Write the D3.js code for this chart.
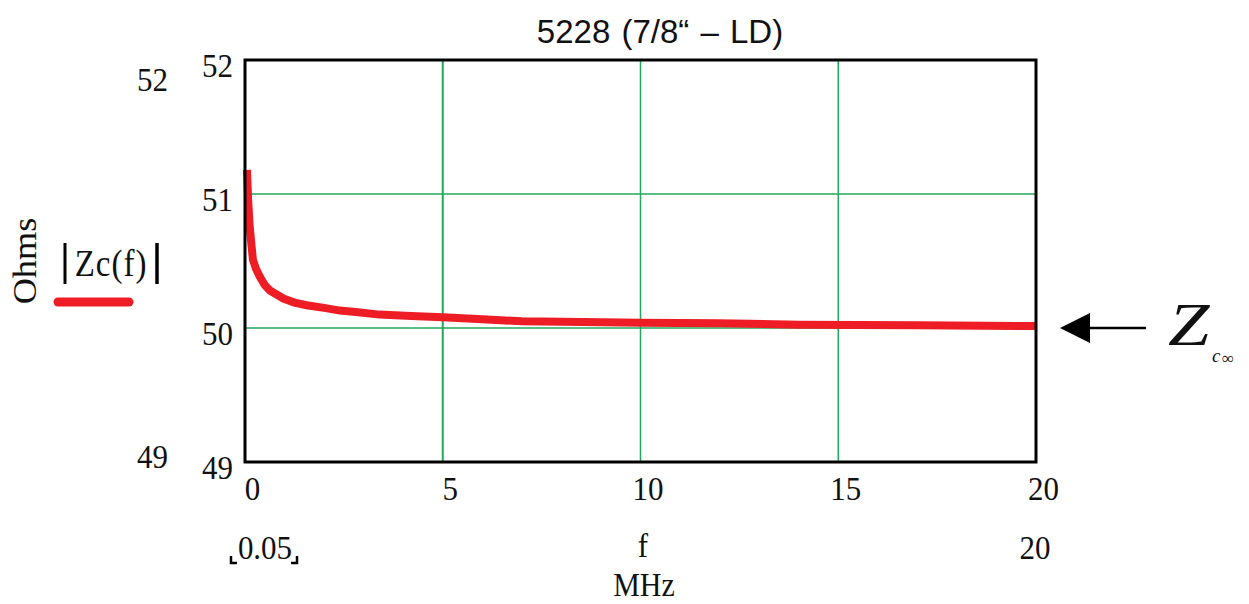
<!DOCTYPE html>
<html>
<head>
<meta charset="utf-8">
<script src="https://cdn.jsdelivr.net/npm/d3@7"></script>
<style>
  body { margin: 0; background: #fff; }
  svg { display: block; }
  .serif { font-family: "Liberation Serif", "Times New Roman", serif; fill: #111; }
</style>
</head>
<body>
<script>
// frequency in MHz, |Zc(f)| in ohms
var freqs = [0.05, 0.08, 0.12, 0.2, 0.28, 0.38, 0.5, 0.63, 0.8, 0.97, 1.25, 1.56, 2.0, 2.4, 2.8, 3.4, 4.2, 5.0, 6.0, 7.0, 8.5, 10, 12, 14, 17, 20];
var zc    = [51.18, 50.95, 50.75, 50.51, 50.44, 50.38, 50.32, 50.28, 50.25, 50.22, 50.19, 50.17, 50.15, 50.13, 50.12, 50.1, 50.09, 50.08, 50.065, 50.05, 50.045, 50.04, 50.035, 50.025, 50.02, 50.015];
var xTicks = [0, 5, 10, 15, 20];
var yTicks = [49, 50, 51, 52];
var xDomain = [0, 20];
var yDomain = [49, 52];
var title = "5228 (7/8\u201C \u2013 LD)";

var width = 1249, height = 604;

var svg = d3.select("body").append("svg")
    .attr("width", width)
    .attr("height", height);

var x = d3.scaleLinear().domain(xDomain).range([245, 1036]);
var y = d3.scaleLinear().domain(yDomain).range([462, 60]);

var green = "#22a85a";
var sy = 1.12; // the picture's lettering is a little taller than plain Times

// serif label at (px, py) baseline, stretched a bit vertically
function label(txt, px, py, size, anchor) {
  return svg.append("text").attr("class", "serif")
    .attr("transform", "translate(" + px + "," + py + ") scale(1," + sy + ")")
    .attr("text-anchor", anchor || "middle")
    .style("font-size", size + "px")
    .text(txt);
}

// grid
svg.append("g").selectAll("line")
    .data(xTicks.filter(function(d) { return d > 0 && d < 20; }))
    .enter().append("line")
    .attr("x1", function(d) { return x(d); })
    .attr("x2", function(d) { return x(d); })
    .attr("y1", y(52)).attr("y2", y(49))
    .attr("stroke", green)
    .attr("stroke-width", function(d) { return d == 5 ? 2 : 1.5; });

svg.append("g").selectAll("line")
    .data(yTicks.filter(function(d) { return d > 49 && d < 52; }))
    .enter().append("line")
    .attr("x1", x(0)).attr("x2", x(20))
    .attr("y1", function(d) { return y(d); })
    .attr("y2", function(d) { return y(d); })
    .attr("stroke", green)
    .attr("stroke-width", 1.5);

// curve
var data = freqs.map(function(f, i) { return [f, zc[i]]; });
svg.append("path")
    .datum(data)
    .attr("fill", "none")
    .attr("stroke", "#ee1c25")
    .attr("stroke-width", 8)
    .attr("d", d3.line()
        .x(function(d) { return x(d[0]); })
        .y(function(d) { return y(d[1]); }));

// frame
svg.append("rect")
    .attr("x", x(0)).attr("y", y(52))
    .attr("width", x(20) - x(0)).attr("height", y(49) - y(52))
    .attr("fill", "none")
    .attr("stroke", "#000")
    .attr("stroke-width", 3);

// axes
var xAxis = svg.append("g")
    .attr("transform", "translate(0," + y(49) + ")")
    .call(d3.axisBottom(x).tickValues(xTicks).tickSize(0).tickFormat(d3.format("d")));
xAxis.select(".domain").remove();
xAxis.selectAll("text")
    .attr("class", "serif")
    .style("font-size", "31px")
    .attr("fill", "#111")
    .attr("dy", null)
    .attr("y", 34)
    .attr("transform", "translate(7,0) scale(1," + sy + ")");

var yAxis = svg.append("g")
    .attr("transform", "translate(" + x(0) + ",0)")
    .call(d3.axisLeft(y).tickValues(yTicks).tickSize(0).tickPadding(12).tickFormat(d3.format("d")));
yAxis.select(".domain").remove();
yAxis.selectAll("text")
    .attr("class", "serif")
    .style("font-size", "31px")
    .attr("fill", "#111")
    .attr("dy", null)
    .attr("y", 15)
    .attr("transform", "scale(1," + sy + ")");

// title
svg.append("text")
    .attr("x", 660).attr("y", 43)
    .attr("text-anchor", "middle")
    .style("font-family", "'Liberation Sans', Arial, sans-serif")
    .style("font-size", "33px")
    .style("word-spacing", "2px")
    .attr("fill", "#111")
    .text(title);

// outer range labels
label(yDomain[1], 168, 91, 31, "end");
label(yDomain[0], 168, 468, 31, "end");

// y label
svg.append("text").attr("class", "serif")
    .attr("transform", "translate(36,261) rotate(-90) scale(1.1,1)")
    .attr("text-anchor", "middle")
    .style("font-size", "33px")
    .text("Ohms");

// legend
label("Zc(f)", 111, 276, 33).style("letter-spacing", "1px");
svg.append("line").attr("x1", 65).attr("x2", 65).attr("y1", 243).attr("y2", 284)
    .attr("stroke", "#000").attr("stroke-width", 3);
svg.append("line").attr("x1", 157).attr("x2", 157).attr("y1", 243).attr("y2", 284)
    .attr("stroke", "#000").attr("stroke-width", 3.5);
svg.append("line").attr("x1", 58).attr("x2", 129).attr("y1", 302).attr("y2", 302)
    .attr("stroke", "#ee1c25").attr("stroke-width", 9)
    .attr("stroke-linecap", "round");

// bottom range labels
label(freqs[0], 265, 559, 31);
svg.append("path")
    .attr("d", "M231,556 V563 H237 M297,556 V563 H291")
    .attr("fill", "none").attr("stroke", "#000").attr("stroke-width", 2.5);
label("f", 643, 557, 31);
label(freqs[freqs.length - 1], 1035, 559, 31);
label("MHz", 644, 596, 30);

// Zc-infinity arrow
svg.append("line")
    .attr("x1", 1146).attr("x2", 1085).attr("y1", y(50)).attr("y2", y(50))
    .attr("stroke", "#000").attr("stroke-width", 2.5);
svg.append("path")
    .attr("d", "M1060," + y(50) + " L1090," + (y(50) - 15) + " L1090," + (y(50) + 15) + " Z")
    .attr("fill", "#000");
svg.append("text").attr("class", "serif")
    .attr("transform", "translate(1168,345) scale(1.2,1)")
    .style("font-size", "62px").style("font-style", "italic")
    .text("Z");
svg.append("text").attr("class", "serif")
    .attr("x", 1212).attr("y", 362)
    .style("font-size", "19px").style("font-style", "italic")
    .text("c");
svg.append("text").attr("class", "serif")
    .attr("x", 1222).attr("y", 364)
    .style("font-size", "17px")
    .text("\u221E");
</script>
</body>
</html>
